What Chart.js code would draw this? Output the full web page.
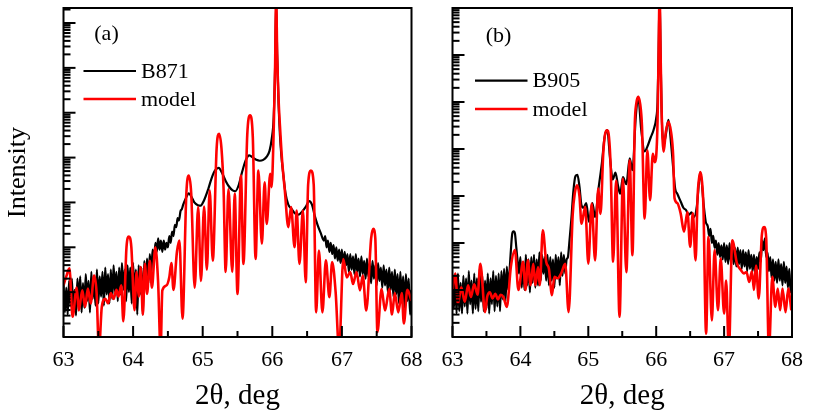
<!DOCTYPE html>
<html><head><meta charset="utf-8">
<script src="https://cdn.jsdelivr.net/npm/chart.js@4.4.0/dist/chart.umd.min.js"></script>
<style>
html,body{margin:0;padding:0;background:#fff;}
#wrap{position:relative;width:813px;height:414px;overflow:hidden;background:#fff;}
canvas{position:absolute;top:0;}
#ca{left:0;} #cb{left:425px;}
</style></head><body>
<div id="wrap"><canvas id="ca" width="435" height="414"></canvas><canvas id="cb" width="388" height="414"></canvas></div>
<script>
// ---- tick labels (2θ, deg) ----
const angleTicks = [63, 64, 65, 66, 67, 68];

// ---- panel (a): model (red), values are log10(intensity) ----
const modelA_theta = [63.00,63.04,63.085,63.13,63.19,63.22,63.27,63.31,63.35,63.39,63.44,63.475,63.51,63.55,63.60,63.64,63.68,63.72,63.76,63.79,63.83,63.86,63.905,63.94,63.975,64.02,64.05,64.08,64.11,64.14,64.17,64.20,64.24,64.27,64.32,64.36,64.395,64.42,64.48,64.52,64.55,64.58,64.63,64.665,64.71,64.765,64.80,64.835,64.885,64.935,64.975,65.02,65.06,65.10,65.145,65.20,65.235,65.27,65.30,65.33,65.37,65.425,65.46,65.50,65.55,65.585,65.64,65.68,65.72,65.76,65.80,65.85,65.89,65.92,65.97,65.99,66.02,66.04,66.055,66.07,66.09,66.11,66.14,66.18,66.23,66.27,66.32,66.35,66.39,66.44,66.48,66.515,66.555,66.595,66.63,66.67,66.72,66.77,66.82,66.86,66.91,66.96,67.02,67.07,67.12,67.16,67.21,67.26,67.30,67.35,67.42,67.45,67.48,67.51,67.57,67.62,67.68,67.72,67.76,67.81,67.86,67.89,67.94,68.00];
const modelA_logI  = [1.15,1.35,1.53,0.45,1.10,0.59,1.04,0.67,1.08,0.75,1.37,1.00,-0.3,0.67,0.85,0.75,0.98,0.85,1.05,0.90,1.15,0.35,2.00,2.24,2.00,0.60,1.45,0.90,1.56,0.50,1.63,0.96,1.70,1.10,2.00,1.20,-0.3,1.04,1.15,1.33,1.65,1.05,1.90,2.15,0.41,3.20,3.60,3.20,1.10,2.90,1.25,2.91,1.50,3.27,1.70,4.20,4.53,4.20,3.30,1.45,3.30,1.45,3.20,0.96,3.60,1.63,4.50,4.94,4.45,1.74,3.71,2.08,3.45,2.52,3.64,3.34,4.60,6.00,7.60,6.30,5.30,4.70,3.95,3.27,2.45,2.90,2.00,2.82,1.63,2.82,1.22,3.40,3.71,3.40,0.55,1.93,0.55,1.71,0.89,1.67,1.00,-0.3,1.74,1.33,1.45,1.18,1.45,1.04,1.37,0.59,2.20,2.41,2.20,0.11,1.07,0.59,1.07,0.50,0.98,0.55,0.98,0.30,1.05,0.81];

// ---- panel (a): measured B871 (black) ----
const b871_theta = [63.00,63.02,63.04,63.06,63.08,63.10,63.12,63.14,63.16,63.18,63.20,63.22,63.24,63.26,63.28,63.30,63.32,63.34,63.36,63.38,63.40,63.42,63.44,63.46,63.48,63.50,63.52,63.54,63.56,63.58,63.60,63.62,63.64,63.66,63.68,63.70,63.72,63.74,63.76,63.78,63.80,63.82,63.84,63.86,63.88,63.90,63.92,63.94,63.96,63.98,64.00,64.02,64.04,64.06,64.08,64.10,64.12,64.14,64.16,64.18,64.20,64.22,64.24,64.26,64.28,64.30,64.32,64.34,64.36,64.38,64.40,64.42,64.44,64.46,64.48,64.50,64.52,64.54,64.56,64.58,64.60,64.62,64.64,64.66,64.68,64.70,64.72,64.76,64.80,64.84,64.88,64.93,64.97,65.02,65.08,65.13,65.18,65.23,65.28,65.33,65.38,65.43,65.47,65.52,65.57,65.62,65.67,65.72,65.77,65.82,65.87,65.92,65.96,65.99,66.02,66.04,66.055,66.07,66.09,66.11,66.13,66.16,66.19,66.23,66.28,66.33,66.38,66.43,66.48,66.53,66.57,66.61,66.65,66.70,66.74,66.76,66.78,66.80,66.82,66.84,66.86,66.88,66.90,66.92,66.94,66.96,66.98,67.00,67.02,67.04,67.06,67.08,67.10,67.12,67.14,67.16,67.18,67.20,67.22,67.24,67.26,67.28,67.30,67.32,67.34,67.36,67.38,67.40,67.42,67.44,67.46,67.48,67.50,67.52,67.54,67.56,67.58,67.60,67.62,67.64,67.66,67.68,67.70,67.72,67.74,67.76,67.78,67.80,67.82,67.84,67.86,67.88,67.90,67.92,67.94,67.96,67.98,68.00];
const b871_logI  = [1.20,0.55,1.10,0.50,1.25,0.70,1.30,0.60,1.05,0.48,1.30,0.75,1.35,0.55,1.20,0.65,1.40,0.80,1.25,0.55,1.45,0.85,1.30,0.70,1.50,0.75,1.35,0.90,1.45,0.70,1.55,0.95,1.40,0.75,1.50,0.85,1.60,1.00,1.45,0.80,1.55,0.95,1.65,1.05,1.50,0.80,1.60,1.00,1.55,0.75,1.65,0.90,1.50,0.50,1.60,0.95,1.55,0.50,1.70,1.10,1.75,1.20,1.85,1.40,1.95,1.70,2.10,1.90,2.20,1.95,2.15,1.90,2.15,1.95,2.10,2.00,2.25,2.10,2.35,2.25,2.50,2.45,2.65,2.60,2.80,2.85,2.95,3.10,3.20,3.12,3.00,2.94,2.93,3.05,3.30,3.55,3.72,3.77,3.65,3.48,3.35,3.27,3.25,3.40,3.70,3.95,4.05,4.00,3.95,3.93,3.95,4.02,4.15,4.40,4.90,6.00,7.50,6.30,5.20,4.50,4.05,3.60,3.20,2.95,2.85,2.75,2.73,2.80,2.90,3.03,2.95,2.70,2.50,2.30,2.15,2.25,2.00,2.15,1.90,2.10,1.85,2.05,1.75,2.00,1.70,1.95,1.65,1.95,1.55,1.90,1.60,1.85,1.45,1.85,1.50,1.80,1.40,1.85,1.45,1.75,1.35,1.80,1.40,1.70,1.30,1.75,1.35,1.65,1.20,1.70,1.30,1.60,1.15,1.65,1.25,1.55,1.10,1.60,1.15,1.50,1.00,1.55,1.05,1.45,0.90,1.50,0.95,1.40,0.75,1.45,0.85,1.35,0.65,1.40,0.80,1.30,0.50,1.05];

// ---- panel (b): model (red) ----
const modelB_theta = [63.00,63.04,63.08,63.13,63.18,63.23,63.27,63.32,63.37,63.41,63.48,63.51,63.55,63.59,63.63,63.67,63.71,63.75,63.80,63.86,63.92,63.97,64.04,64.075,64.11,64.15,64.19,64.22,64.26,64.285,64.33,64.38,64.42,64.465,64.50,64.55,64.60,64.66,64.71,64.77,64.80,64.835,64.87,64.90,64.955,65.00,65.05,65.10,65.145,65.18,65.22,65.245,65.275,65.305,65.33,65.365,65.41,65.46,65.51,65.56,65.61,65.65,65.685,65.705,65.735,65.765,65.79,65.83,65.87,65.91,65.95,65.98,66.00,66.02,66.035,66.05,66.065,66.08,66.11,66.14,66.18,66.22,66.25,66.27,66.31,66.36,66.41,66.46,66.50,66.54,66.58,66.61,66.625,66.65,66.675,66.695,66.735,66.77,66.82,66.86,66.91,66.95,67.00,67.03,67.07,67.12,67.19,67.25,67.29,67.33,67.37,67.41,67.44,67.47,67.51,67.555,67.59,67.62,67.66,67.71,67.755,67.79,67.825,67.86,67.905,67.945,67.99];
const modelB_logI  = [0.99,1.35,0.71,1.06,0.75,1.10,0.85,1.12,0.90,1.56,0.53,0.85,0.95,0.82,0.92,0.80,0.90,0.85,0.64,1.50,1.85,1.00,1.60,1.00,1.63,1.10,1.56,1.10,1.49,1.10,2.27,1.60,1.45,0.89,1.28,1.25,1.35,1.56,0.53,2.60,3.05,3.23,3.00,2.41,2.77,1.56,2.84,1.63,3.16,2.62,3.90,4.30,4.40,4.25,3.60,1.60,3.33,0.43,3.37,1.38,3.76,1.74,4.54,4.95,5.11,4.95,4.50,2.52,3.97,2.91,3.90,3.72,3.85,4.60,6.00,7.30,6.00,4.80,3.94,4.35,4.58,4.35,3.85,2.95,2.85,2.63,2.24,2.66,1.92,2.63,1.63,3.00,3.30,3.51,3.30,2.80,0.07,2.13,0.35,1.85,0.57,1.67,0.50,1.20,-0.3,2.06,1.56,1.42,1.35,1.38,1.17,1.40,1.00,1.52,0.82,2.15,2.34,2.10,-0.3,1.28,0.64,1.03,0.57,1.03,0.53,1.03,0.57];

// ---- panel (b): measured B905 (black) ----
const b905_theta = [63.00,63.02,63.04,63.06,63.08,63.10,63.12,63.14,63.16,63.18,63.20,63.22,63.24,63.26,63.28,63.30,63.32,63.34,63.36,63.38,63.40,63.42,63.44,63.46,63.48,63.50,63.52,63.54,63.56,63.58,63.60,63.62,63.64,63.66,63.68,63.70,63.72,63.74,63.76,63.78,63.80,63.82,63.84,63.86,63.88,63.90,63.92,63.94,63.96,63.98,64.00,64.02,64.04,64.06,64.08,64.10,64.12,64.14,64.16,64.18,64.20,64.22,64.24,64.26,64.28,64.30,64.32,64.34,64.36,64.38,64.40,64.42,64.44,64.46,64.48,64.50,64.52,64.54,64.56,64.58,64.60,64.62,64.64,64.66,64.68,64.70,64.72,64.75,64.78,64.81,64.84,64.87,64.90,64.93,64.97,65.01,65.06,65.10,65.15,65.20,65.24,65.28,65.32,65.36,65.40,65.44,65.47,65.51,65.56,65.61,65.65,65.70,65.735,65.78,65.83,65.87,65.92,65.96,66.00,66.02,66.035,66.05,66.065,66.08,66.10,66.12,66.18,66.22,66.25,66.28,66.31,66.34,66.37,66.40,66.44,66.48,66.52,66.56,66.60,66.65,66.70,66.73,66.76,66.78,66.80,66.82,66.84,66.86,66.88,66.90,66.92,66.94,66.96,66.98,67.00,67.02,67.04,67.06,67.08,67.10,67.12,67.14,67.16,67.18,67.20,67.22,67.24,67.26,67.28,67.30,67.32,67.34,67.36,67.38,67.40,67.42,67.44,67.46,67.48,67.50,67.52,67.54,67.56,67.58,67.60,67.62,67.64,67.66,67.68,67.70,67.72,67.74,67.76,67.78,67.80,67.82,67.84,67.86,67.88,67.90,67.92,67.94,67.96,67.98,68.00];
const b905_logI  = [1.30,0.60,1.20,0.50,1.35,0.55,1.15,0.50,1.30,0.65,1.25,0.50,1.40,0.70,1.20,0.50,1.35,0.60,1.25,0.55,1.45,0.75,1.30,0.55,1.20,0.60,1.35,0.50,1.25,0.70,1.40,0.55,1.30,0.65,1.35,0.55,1.40,0.80,1.45,0.75,1.50,1.00,1.40,1.85,2.20,2.25,2.20,1.90,1.60,1.35,1.70,1.05,1.60,1.00,1.75,1.10,1.65,0.95,1.70,1.15,1.75,1.05,1.65,1.10,1.80,1.20,1.75,1.35,1.70,1.20,1.75,1.10,1.70,1.20,1.65,1.05,1.75,1.25,1.70,1.10,1.80,1.30,1.75,1.35,1.65,1.70,2.00,2.50,3.10,3.42,3.45,3.20,2.80,2.75,2.85,2.45,2.85,2.55,3.15,3.70,4.25,4.40,3.80,3.35,3.50,3.20,3.05,3.40,3.25,3.80,3.55,4.70,5.11,4.40,3.95,4.05,4.25,4.40,4.65,5.00,6.00,7.30,6.00,4.80,4.20,4.15,4.62,4.10,3.60,3.15,3.05,2.95,2.85,2.75,2.70,2.60,2.65,2.55,2.80,3.51,2.80,2.45,2.35,2.15,2.30,2.00,2.15,1.90,2.05,1.75,2.00,1.70,1.95,1.65,2.00,1.60,1.95,1.55,2.00,1.60,1.95,1.55,1.90,1.50,1.90,1.55,1.85,1.45,1.85,1.50,1.80,1.40,1.85,1.45,1.75,1.40,1.75,1.35,1.70,1.45,1.80,1.60,2.05,1.85,2.10,1.70,1.80,1.40,1.70,1.25,1.65,1.20,1.60,1.15,1.65,1.20,1.55,1.10,1.60,1.15,1.50,1.05,1.45,0.95,1.10];

function toPoints(thetas, logs) {
  return thetas.map((t, i) => ({ x: t, y: Math.pow(10, logs[i]) }));
}

const SERIF = '"Liberation Serif", "Times New Roman", serif';
Chart.defaults.font.family = SERIF;
Chart.defaults.color = '#000';

const framePlugin = {
  id: 'frame',
  afterDatasetsDraw(chart, args, o) {
    const { ctx, chartArea: a, scales: { x, y } } = chart;
    ctx.save();
    ctx.strokeStyle = '#000';
    ctx.lineWidth = 2;
    for (let e = -1; e <= 9; e++) {
      for (let k = 1; k <= 9; k++) {
        const v = k * Math.pow(10, e);
        if (v < y.min * 0.9999 || v > y.max) continue;
        const py = y.getPixelForValue(v);
        const len = k === 1 ? 12 : 7;
        ctx.beginPath(); ctx.moveTo(a.left, py); ctx.lineTo(a.left + len, py); ctx.stroke();
      }
    }
    for (let i = 0; i < angleTicks.length; i++) {
      const t = angleTicks[i];
      [t, t + 0.5].forEach((v, j) => {
        if (v > x.max) return;
        const px = x.getPixelForValue(v);
        const len = j === 0 ? 11 : 6;
        ctx.beginPath(); ctx.moveTo(px, a.bottom); ctx.lineTo(px, a.bottom - len); ctx.stroke();
      });
    }
    ctx.strokeRect(a.left, a.top, a.right - a.left, a.bottom - a.top);
    // panel tag and legend
    ctx.fillStyle = '#000';
    ctx.font = '22px ' + SERIF;
    ctx.textBaseline = 'middle';
    ctx.textAlign = 'center';
    ctx.fillText(o.tag, a.left + o.tagDx, a.top + o.tagDy);
    ctx.textAlign = 'left';
    const ds = chart.data.datasets;
    const items = [ds[1], ds[0]];
    items.forEach((d, i) => {
      const ly = a.top + o.legDy + i * o.legGap;
      ctx.strokeStyle = d.borderColor;
      ctx.lineWidth = d.borderWidth;
      ctx.beginPath(); ctx.moveTo(a.left + o.legX0, ly); ctx.lineTo(a.left + o.legX1, ly); ctx.stroke();
      ctx.fillText(d.label, a.left + o.legX1 + 5, ly + 1);
    });
    ctx.restore();
  }
};

function makeChart(id, red, black, sampleName, opt) {
  return new Chart(document.getElementById(id), {
    type: 'line',
    data: {
      datasets: [
        { label: 'model', data: red, borderColor: '#ff0000', borderWidth: 2.6, pointRadius: 0,
          cubicInterpolationMode: 'monotone', order: 0, clip: 0 },
        { label: sampleName, data: black, borderColor: '#000000', borderWidth: 2.2, pointRadius: 0,
          cubicInterpolationMode: 'monotone', order: 1, clip: 0 }
      ]
    },
    options: {
      responsive: false, animation: false, devicePixelRatio: 1,
      layout: { padding: opt.padding },
      plugins: { legend: { display: false }, tooltip: { enabled: false },
                 frame: opt.frame },
      scales: {
        x: {
          type: 'linear', min: 63, max: 68,
          afterBuildTicks: s => { s.ticks = angleTicks.map(v => ({ value: v })); },
          afterFit: s => { s.height = 77; },
          grid: { display: false, drawTicks: false }, border: { display: false },
          ticks: { font: { size: 22 }, padding: 10, maxRotation: 0, autoSkip: false, color: '#000' },
          title: { display: true, text: '2θ, deg', font: { size: 29 }, padding: { top: 0, bottom: 0 }, color: '#000' }
        },
        y: {
          type: 'logarithmic', min: 1, max: opt.ymax,
          display: opt.yDisplay,
          afterFit: s => { s.width = opt.yWidth; },
          grid: { display: false, drawTicks: false }, border: { display: false },
          ticks: { display: false },
          title: { display: opt.yDisplay, text: 'Intensity', font: { size: 26 }, padding: { top: 3, bottom: 0 }, color: '#000' }
        }
      }
    },
    plugins: [framePlugin]
  });
}

makeChart('ca', toPoints(modelA_theta, modelA_logI), toPoints(b871_theta, b871_logI), 'B871', {
  padding: { left: 0, right: 23.5, top: 8, bottom: 0 },
  ymax: Math.pow(10, 7.335), yDisplay: true, yWidth: 63.5,
  frame: { tag: '(a)', tagDx: 43, tagDy: 26.5, legX0: 20, legX1: 72.5, legDy: 63, legGap: 28 }
});
makeChart('cb', toPoints(modelB_theta, modelB_logI), toPoints(b905_theta, b905_logI), 'B905', {
  padding: { left: 27.5, right: 12.5, top: 8, bottom: 0 },
  ymax: Math.pow(10, 7), yDisplay: false, yWidth: 0,
  frame: { tag: '(b)', tagDx: 46, tagDy: 28.5, legX0: 22.5, legX1: 75, legDy: 72.7, legGap: 28.3 }
});
</script>
</body></html>
